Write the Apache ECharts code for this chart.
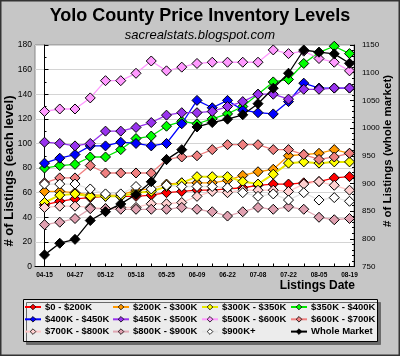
<!DOCTYPE html>
<html><head><meta charset="utf-8">
<script src="https://cdn.jsdelivr.net/npm/echarts@6/dist/echarts.min.js"></script>
<style>html,body{margin:0;padding:0;background:#c6c6c6}#c{width:400px;height:356px}</style>
</head><body><div id="c"></div>
<script>
const dates = ['04-15','04-21','04-27','05-05','05-12','05-15','05-18','05-21','05-25','06-02','06-09','06-15','06-22','06-30','07-08','07-15','07-22','07-29','08-05','08-12','08-19'];
const leftTicks = [0,20,40,60,80,100,120,140,160,180];
const rightTicks = [750,800,850,900,950,1000,1050,1100,1150];

const s0_200 = [50,53,55,56,57,57,57,58,60,61,62,62,63,64,66,67,67,68,69,72,73];
const s200_300 = [61,61,60,58,58,58,62,63,67,68,68,68,70,74,77,79,90,91,92,95,92];
const s300_350 = [52,58,59,57,57,57,60,61,65,68,73,73,73,69,67,75,84,85,84,85,85];
const s350_400 = [80,82,83,89,89,95,104,106,114,118,116,120,124,130,140,150,152,165,174,179,173];
const s400_450 = [84,88,91,98,98,101,100,98,100,116,135,129,135,127,125,124,134,149,145,145,145];
const s450_500 = [101,100,98,100,110,110,113,117,123,125,125,126,130,134,140,140,136,144,144,145,145];
const s500_600 = [126,128,128,137,151,151,157,167,159,162,165,166,166,166,166,176,173,175,169,166,159];
const s600_700 = [68,72,72,82,76,76,76,76,87,89,90,95,99,99,99,95,95,91,87,89,92];
const s700_800 = [48,49,49,48,47,48,48,51,51,52,57,61,60,62,62,62,61,67,69,66,62];
const s800_900 = [34,36,39,47,47,46.5,46.5,46.5,46.5,48,46.5,44.5,41,44.5,48,46.5,48.5,46.5,40,38,39];
const s900plus = [67,67,67,63,59,59,65,63,66,65,65,65,64,60,57,59,54,60,54,56,53];
const wholeMarket = [771,792,799,833,849,863,880,903,943,961,1002,1010,1016,1024,1044,1072,1099,1141,1137,1134,1117];

const seriesNames = ['$0 - $200K','$200K - $300K','$300K - $350K','$350K - $400K','$400K - $450K','$450K - $500K','$500K - $600K','$600K - $700K','$700K - $800K','$800K - $900K','$900K+','Whole Market'];
const seriesValues = [s0_200,s200_300,s300_350,s350_400,s400_450,s450_500,s500_600,s600_700,s700_800,s800_900,s900plus,wholeMarket];
const fillColors = ['#ff0000','#ff9900','#ffff00','#00ff00','#0000ff','#9933ee','#ff99ff','#f08080','#ffd0d0','#e0a0b0','#ffffff','#000000'];
const lineColors = ['#ff0000','#ff9900','#e8e800','#00e600','#0000ff','#9933ee','#ff99ff','#f08080','#ffc8c8','#e0a8b4','#e4e4e4','#000000'];

const FONT = 'Liberation Sans, Arial, sans-serif';
const chart = echarts.init(document.getElementById('c'), null, {renderer:'canvas'});

const series = seriesNames.map((n, k) => ({
  name: n,
  type: 'line',
  yAxisIndex: k === 11 ? 1 : 0,
  data: seriesValues[k].map((v, i) => [i, v]),
  symbol: 'diamond',
  symbolSize: 10,
  lineStyle: {color: lineColors[k], width: k === 2 ? 2 : 1.3},
  itemStyle: {color: fillColors[k], borderColor: '#000', borderWidth: 1},
  emphasis: {disabled: true},
  animation: false,
  z: 3 + k
}));

const legendCols = [
  [0, 4, 8], [1, 5, 9], [2, 6, 10], [3, 7, 11]
];
const colLeft = [24, 112, 201, 290];
const legends = legendCols.map((col, c) => ({
  orient: 'vertical',
  left: colLeft[c],
  top: 302,
  padding: 0,
  itemGap: 2.3,
  itemWidth: 16,
  itemHeight: 7,
  data: col.map(k => ({name: seriesNames[k], itemStyle: {borderWidth: 0.8}})),
  textStyle: {fontSize: 9.5, fontWeight: 'bold', fontFamily: FONT, color: '#000', padding: [0,0,0,-1]},
  selectedMode: false,
  z: 10
}));

chart.setOption({
  backgroundColor: '#c6c6c6',
  animation: false,
  textStyle: {fontFamily: FONT},
  title: [
    {text: 'Yolo County Price Inventory Levels', left: 'center', top: 2,
     textStyle: {fontSize: 18, fontWeight: 'bold', color: '#000', fontFamily: FONT}},
    {text: 'sacrealstats.blogspot.com', left: 'center', top: 24,
     textStyle: {fontSize: 13, fontStyle: 'italic', fontWeight: 'normal', color: '#000', fontFamily: FONT}}
  ],
  grid: {left: 35, right: 46, top: 45, bottom: 89.5, show: true, backgroundColor: '#ffffff', borderColor: '#888', borderWidth: 1},
  xAxis: {
    type: 'value', min: -0.623, max: 20.295,
    axisLine: {show: true, lineStyle: {color: '#000', width: 1}},
    axisTick: {show: true, inside: true, length: 3, lineStyle: {color: '#000'}, customValues: dates.map((d, i) => i)},
    axisLabel: {customValues: dates.map((d, i) => i).filter(i => i % 2 === 0),
      formatter: v => dates[Math.round(v)], fontSize: 6.5, fontWeight: 'bold', color: '#000', margin: 5, fontFamily: FONT},
    splitLine: {show: false}
  },
  yAxis: [
    {type: 'value', min: leftTicks[0], max: leftTicks[leftTicks.length-1], interval: 20,
     axisLine: {show: true, lineStyle: {color: '#000'}},
     axisTick: {show: true, inside: true, length: 4, lineStyle: {color: '#000'}},
     minorTick: {show: true, splitNumber: 2, length: 2, lineStyle: {color: '#000'}},
     axisLabel: {fontSize: 8.5, color: '#000', margin: 3, fontFamily: FONT, formatter: v => String(v)},
     splitLine: {show: true, lineStyle: {color: '#d4d4d4', width: 1}}},
    {type: 'value', min: rightTicks[0], max: rightTicks[rightTicks.length-1], interval: 50, position: 'right',
     axisLine: {show: true, lineStyle: {color: '#000'}},
     axisTick: {show: true, inside: true, length: 4, lineStyle: {color: '#000'}},
     minorTick: {show: true, splitNumber: 5, length: 2, lineStyle: {color: '#000'}},
     axisLabel: {fontSize: 8, color: '#000', margin: 8, fontFamily: FONT, formatter: v => String(v)},
     splitLine: {show: false}}
  ],
  legend: legends,
  graphic: [
    {type: 'rect', shape: {x: 0.5, y: 0.5, width: 399, height: 355}, style: {fill: 'none', stroke: '#333', lineWidth: 2}, z: 100, silent: true},
    {type: 'rect', shape: {x: 23.5, y: 299.5, width: 354, height: 42}, style: {fill: '#ececec', stroke: '#000', lineWidth: 1, shadowColor: '#6a6a6a', shadowOffsetX: 3, shadowOffsetY: 3, shadowBlur: 0}, z: 0, silent: true},
    {type: 'text', x: 9, y: 171, rotation: Math.PI/2, style: {text: '# of Listings (each level)', font: 'bold 13px ' + FONT, fill: '#000', align: 'center', verticalAlign: 'middle'}, silent: true},
    {type: 'text', x: 388, y: 151, rotation: Math.PI/2, style: {text: '# of Listings (whole market)', font: 'bold 11.5px ' + FONT, fill: '#000', align: 'center', verticalAlign: 'middle'}, silent: true},
    {type: 'text', x: 355, y: 286, style: {text: 'Listings Date', font: 'bold 12px ' + FONT, fill: '#000', align: 'right', verticalAlign: 'middle'}, silent: true}
  ],
  series: series
});
</script></body></html>
